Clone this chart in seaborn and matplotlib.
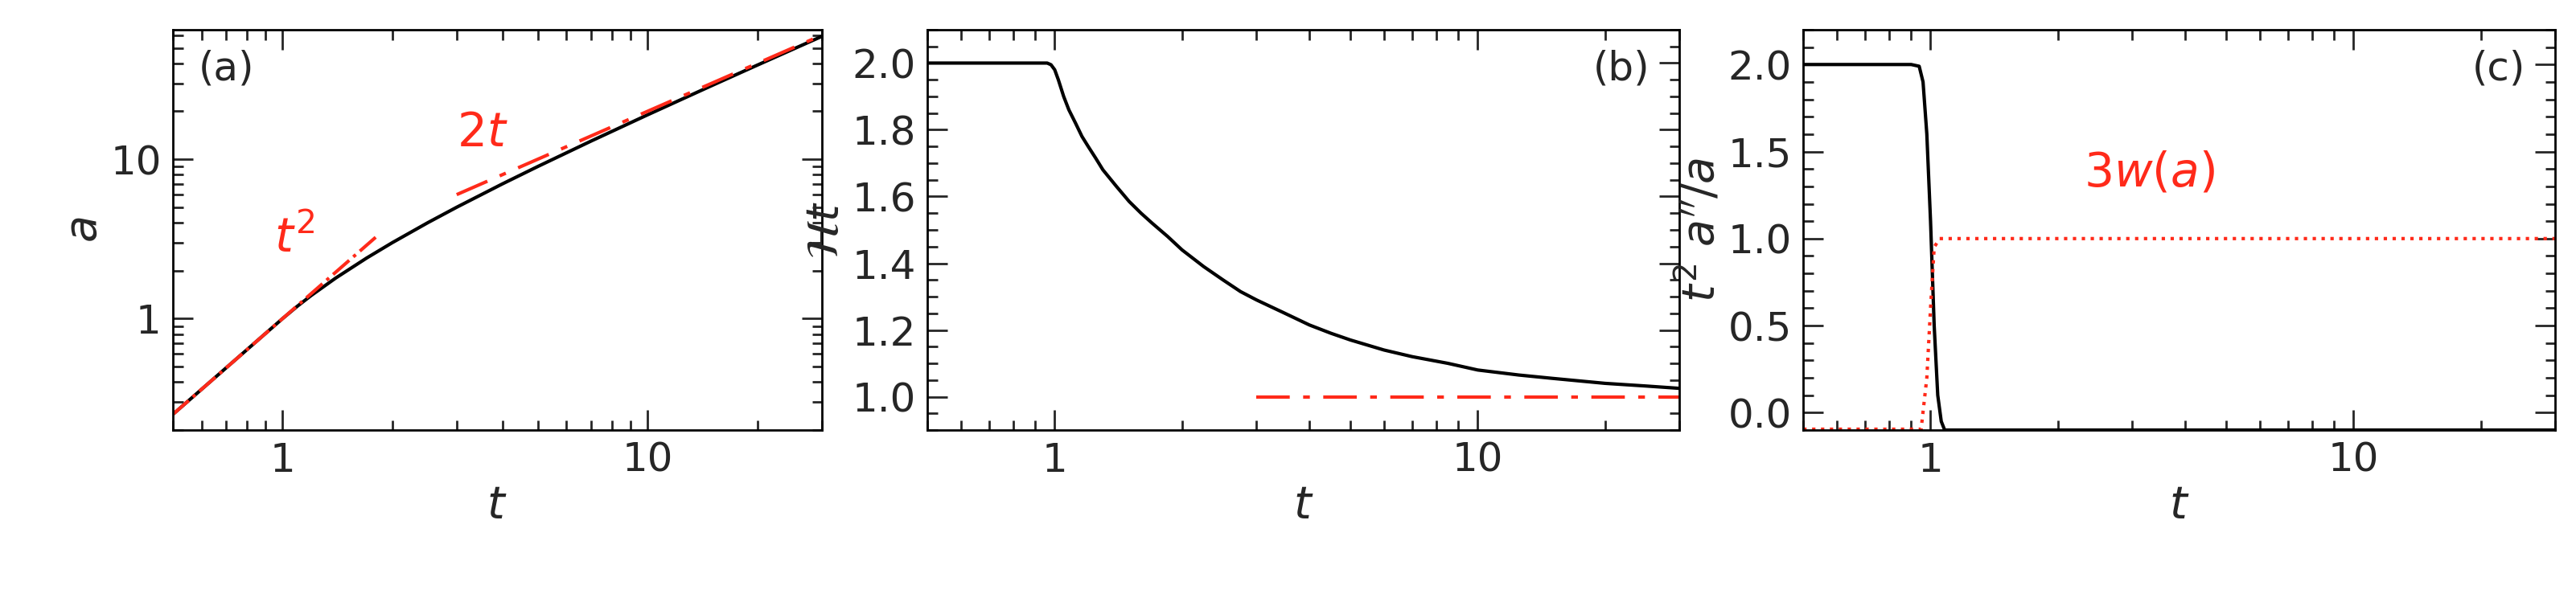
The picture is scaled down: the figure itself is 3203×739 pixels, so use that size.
import numpy as np
import matplotlib
matplotlib.use("Agg")
import matplotlib.pyplot as plt
import seaborn as sns
from matplotlib.ticker import FixedLocator, NullFormatter, FixedFormatter

sns.set_theme(style="ticks")
plt.rcParams['font.family'] = ['DejaVu Sans']

# values
t_vals = [0.5, 0.6, 0.7, 0.8, 0.9, 1.0, 1.1, 1.2, 1.4, 1.7, 2.0, 2.5, 3.0, 4.0, 5.0, 7.0, 10.0, 15.0, 20.0, 30.0]
a_vals = [0.25, 0.36, 0.49, 0.64, 0.81, 1.0, 1.2, 1.4, 1.8, 2.4, 3.0, 4.0, 5.0, 7.0, 9.0, 13.0, 19.0, 29.0, 39.0, 59.0]
t2_t = [0.5, 0.8, 1.2, 1.8]
t2_a = [0.25, 0.64, 1.44, 3.24]
lin_t = [3.0, 10.0, 30.0]
lin_a = [6.0, 20.0, 60.0]

ht_t = [0.5, 0.9, 0.96, 0.98, 1.0, 1.02, 1.05, 1.08, 1.12, 1.16, 1.2, 1.25, 1.3, 1.4, 1.5, 1.6, 1.7, 1.85, 2.0, 2.25,
        2.5, 2.75, 3.0, 3.5, 4.0, 4.5, 5.0, 6.0, 7.0, 8.5, 10.0, 12.5, 15.0, 20.0, 25.0, 30.0]
ht_v = [2.0, 2.0, 2.0, 1.995, 1.98, 1.95, 1.9, 1.86, 1.82, 1.78, 1.75, 1.715, 1.68, 1.63, 1.585, 1.55, 1.52, 1.48, 1.44, 1.39,
        1.35, 1.315, 1.29, 1.25, 1.215, 1.19, 1.17, 1.14, 1.12, 1.1, 1.08, 1.065, 1.055, 1.04, 1.032, 1.025]
ht_ref_t = [3.0, 30.0]
ht_ref_v = [1.0, 1.0]

acc_t = [0.5, 0.9, 0.94, 0.96, 0.98, 1.0, 1.02, 1.04, 1.06, 1.08, 30.0]
acc_v = [2.0, 2.0, 1.99, 1.9, 1.6, 1.1, 0.5, 0.1, -0.05, -0.1, -0.1]
w_t = [0.5, 0.95, 0.98, 1.0, 1.02, 1.05, 30.0]
w_v = [-0.095, -0.095, 0.2, 0.6, 0.95, 1.0, 1.0]

red = '#ff2a1a'
fs = 36

fig = plt.figure(figsize=(32.03, 7.39), dpi=100)
axes = [fig.add_axes([0.067, 0.276, 0.252, 0.674]),
        fig.add_axes([0.360, 0.276, 0.292, 0.674]),
        fig.add_axes([0.700, 0.276, 0.292, 0.674])]

def style(ax):
    ax.set_xscale('log')
    ax.set_xlim(0.5, 30)
    ax.xaxis.set_major_locator(FixedLocator([1, 10]))
    ax.xaxis.set_major_formatter(FixedFormatter(['1', '10']))
    ax.xaxis.set_minor_locator(FixedLocator([0.5, 0.6, 0.7, 0.8, 0.9] + list(range(2, 10)) + [20, 30]))
    ax.xaxis.set_minor_formatter(NullFormatter())
    ax.tick_params(which='both', direction='in', top=True, right=True, labelsize=fs, width=2)
    ax.tick_params(which='major', length=18, pad=10)
    ax.tick_params(which='minor', length=9)
    for s in ax.spines.values():
        s.set_linewidth(2)
        s.set_color('black')
    ax.set_xlabel(r'$t$', fontsize=fs + 4)

ax = axes[0]
sns.lineplot(x=t_vals, y=a_vals, ax=ax, color='black', lw=3)
sns.lineplot(x=t2_t, y=t2_a, ax=ax, color=red, lw=3, linestyle='-.')
sns.lineplot(x=lin_t, y=lin_a, ax=ax, color=red, lw=3, linestyle=(0, (10, 4, 2, 4)))
style(ax)
ax.set_yscale('log')
ax.set_ylim(0.2, 65)
ax.yaxis.set_major_locator(FixedLocator([1, 10]))
ax.yaxis.set_major_formatter(FixedFormatter(['1', '10']))
ax.yaxis.set_minor_locator(FixedLocator([0.2, 0.3, 0.4, 0.5, 0.6, 0.7, 0.8, 0.9] + list(range(2, 10)) + [20, 30, 40, 50, 60]))
ax.yaxis.set_minor_formatter(NullFormatter())
ax.set_ylabel(r'$a$', fontsize=fs + 4)
ax.text(0.95, 2.6, r'$t^2$', color=red, fontsize=fs + 6)
ax.text(3.0, 12.0, r'$2t$', color=red, fontsize=fs + 6)
ax.text(0.04, 0.95, '(a)', transform=ax.transAxes, fontsize=fs, va='top')

ax = axes[1]
sns.lineplot(x=ht_t, y=ht_v, ax=ax, color='black', lw=3)
sns.lineplot(x=ht_ref_t, y=ht_ref_v, ax=ax, color=red, lw=3, linestyle=(0, (10, 4, 2, 4)))
style(ax)
ax.set_ylim(0.9, 2.1)
ax.set_yticks([1.0, 1.2, 1.4, 1.6, 1.8, 2.0])
ax.set_yticklabels(['1.0', '1.2', '1.4', '1.6', '1.8', '2.0'])
ax.yaxis.set_minor_locator(FixedLocator(list(np.arange(0.9, 2.11, 0.05))))
ax.set_ylabel(r'$\mathcal{H}t$', fontsize=fs + 4)
ax.text(0.96, 0.95, '(b)', transform=ax.transAxes, fontsize=fs, va='top', ha='right')

ax = axes[2]
sns.lineplot(x=acc_t, y=acc_v, ax=ax, color='black', lw=3)
sns.lineplot(x=w_t, y=w_v, ax=ax, color=red, lw=3, linestyle=':')
style(ax)
ax.set_ylim(-0.1, 2.2)
ax.set_yticks([0.0, 0.5, 1.0, 1.5, 2.0])
ax.set_yticklabels(['0.0', '0.5', '1.0', '1.5', '2.0'])
ax.yaxis.set_minor_locator(FixedLocator(list(np.arange(0.0, 2.21, 0.1))))
ax.set_ylabel(r"$t^2\ a''/a$", fontsize=fs + 4)
ax.text(2.3, 1.3, r'$3w(a)$', color=red, fontsize=fs + 6)
ax.text(0.96, 0.95, '(c)', transform=ax.transAxes, fontsize=fs, va='top', ha='right')

fig.savefig('out.png', dpi=100)
